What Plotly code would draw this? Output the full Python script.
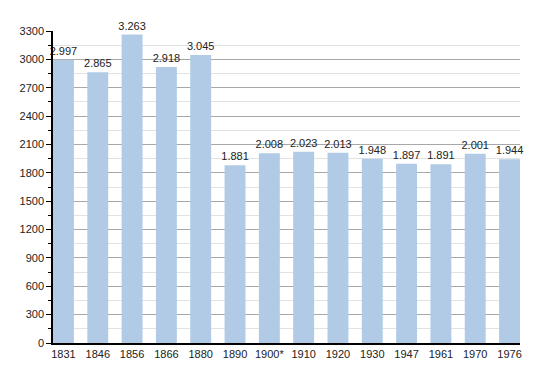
import plotly.graph_objects as go

years = ["1831", "1846", "1856", "1866", "1880", "1890", "1900*", "1910",
         "1920", "1930", "1947", "1961", "1970", "1976"]
population = [2997, 2865, 3263, 2918, 3045, 1881, 2008, 2023, 2013, 1948,
              1897, 1891, 2001, 1944]
y_ticks = list(range(0, 3301, 300))

fig = go.Figure(go.Bar(
    x=years, y=population,
    marker=dict(color="#b1cbe6", line=dict(width=0)),
    width=0.61,
    texttemplate="%{y:,}", textposition="outside", constraintext="none",
    textfont=dict(family="Liberation Sans, Arial, sans-serif", size=11, color="#222"),
    cliponaxis=False,
))

fig.update_layout(
    width=542, height=365,
    margin=dict(l=42, r=30, t=23, b=30),
    plot_bgcolor="white", paper_bgcolor="white",
    separators=",.",
    showlegend=False,
    font=dict(family="Liberation Sans, Arial, sans-serif", size=11, color="#222"),
    xaxis=dict(
        type="category", range=[-0.305, 13.305],
        showline=True, linecolor="black", linewidth=1.5,
        ticks="", showgrid=False, tickfont=dict(size=11),
    ),
    yaxis=dict(
        range=[0, 3300], tickvals=y_ticks,
        showline=True, linecolor="black", linewidth=1.5,
        ticks="outside", ticklen=5, tickcolor="black", tickwidth=1,
        showgrid=True, gridcolor="#a8a8a8", gridwidth=1,
        zeroline=False,
        minor=dict(dtick=150, tick0=0, ticks="outside", ticklen=3, tickcolor="black",
                   showgrid=True, gridcolor="#e2e2e2", gridwidth=1),
        tickfont=dict(size=11),
    ),
)

fig.write_html("out.html")
